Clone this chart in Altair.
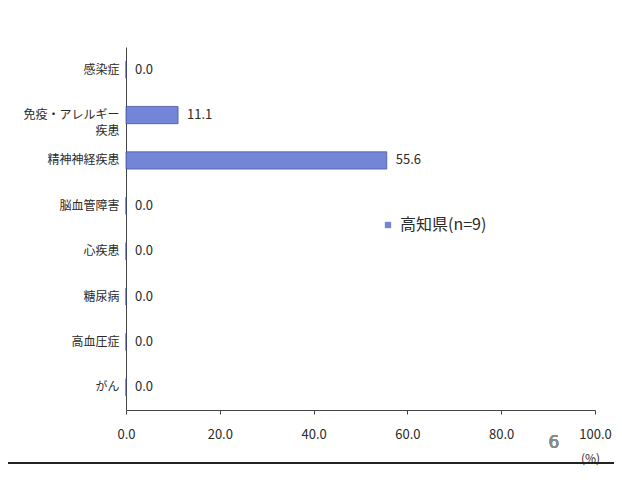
import altair as alt
import pandas as pd

categories = ["感染症", "免疫・アレルギー\n疾患", "精神神経疾患", "脳血管障害", "心疾患", "糖尿病", "高血圧症", "がん"]
values = [0.0, 11.1, 55.6, 0.0, 0.0, 0.0, 0.0, 0.0]
series = "高知県(n=9)"
x_ticks = [0, 20, 40, 60, 80, 100]

df = pd.DataFrame({"cat": categories, "val": values, "series": [series] * len(values)})

FONT = "Noto Sans CJK JP"
W, H = 469, 363

base = alt.Chart(df)

bars = base.mark_bar(stroke="#3f4f9e", strokeWidth=0.8, opacity=0.95).encode(
    y=alt.Y("cat:N", sort=categories, title=None,
            scale=alt.Scale(paddingInner=0.62, paddingOuter=0.31),
            axis=alt.Axis(labelExpr="split(datum.value, '\\n')", labelFont=FONT,
                          labelFontSize=12, labelColor="#2a2a2a", labelPadding=7,
                          ticks=False, domainColor="#444444", labelLineHeight=16)),
    x=alt.X("val:Q", title="(%)",
            scale=alt.Scale(domain=[0, 100]),
            axis=alt.Axis(values=x_ticks, format=".1f", grid=False, labelFont=FONT,
                          labelFontSize=13, labelColor="#2a2a2a", labelPadding=14,
                          labelFlush=False,
                          tickSize=4, tickColor="#444444", domainColor="#444444",
                          titleFont=FONT, titleFontSize=12, titleFontWeight="normal",
                          titleColor="#2a2a2a", titleX=464, titleY=48,
                          titleAlign="center", titleBaseline="middle")),
    color=alt.Color("series:N", title=None,
                    scale=alt.Scale(range=["#6b7fd4"]),
                    legend=alt.Legend(orient="none", legendX=254, legendY=170,
                                      symbolType="square", symbolSize=40,
                                      labelFont=FONT, labelFontSize=16,
                                      labelColor="#2a2a2a", symbolStrokeWidth=0)),
)

labels = base.mark_text(align="left", baseline="middle", dx=9, font=FONT,
                        fontSize=13, color="#2a2a2a").encode(
    y=alt.Y("cat:N", sort=categories),
    x=alt.X("val:Q"),
    text=alt.Text("val:Q", format=".1f"),
)

note = base.mark_text(font="DejaVu Sans", fontSize=17, fontWeight="normal",
                      color="#8a8a8a").encode(
    x=alt.value(428), y=alt.value(396), text=alt.value("6")
)

bottom_line = base.mark_rule(color="#222222", strokeWidth=2).encode(
    x=alt.value(-126), x2=alt.value(488), y=alt.value(416)
)

chart = alt.layer(bars, labels, note, bottom_line).properties(
    width=W, height=H,
    autosize=alt.AutoSizeParams(type="none"),
    padding={"left": 118, "top": 39, "right": 19, "bottom": 75},
).configure(background="white").configure_view(strokeWidth=0)

chart.save("out.html", embed_options={"renderer": "svg", "actions": False})
